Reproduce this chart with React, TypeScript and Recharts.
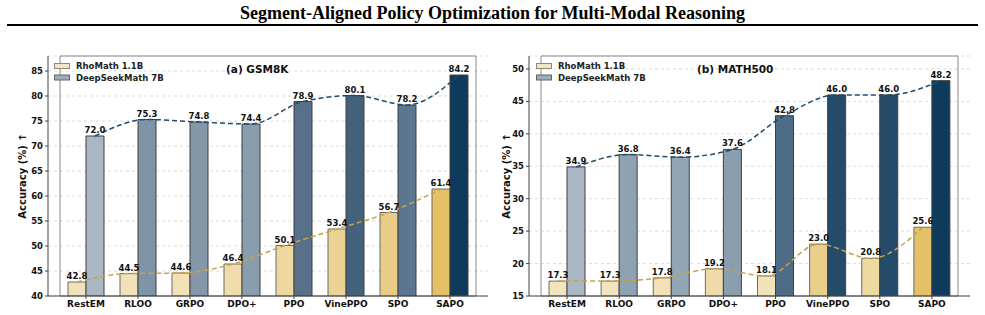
import { ComposedChart, Bar, Line, XAxis, YAxis, CartesianGrid, Cell, LabelList, ReferenceArea } from 'recharts';

const categories = ['RestEM', 'RLOO', 'GRPO', 'DPO+', 'PPO', 'VinePPO', 'SPO', 'SAPO'];

// GSM8K
const gsmRho = [42.8, 44.5, 44.6, 46.4, 50.1, 53.4, 56.7, 61.4];
const gsmDeep = [72.0, 75.3, 74.8, 74.4, 78.9, 80.1, 78.2, 84.2];
const gsmTicks = [40, 45, 50, 55, 60, 65, 70, 75, 80, 85];

// MATH500
const mathRho = [17.3, 17.3, 17.8, 19.2, 18.1, 23.0, 20.8, 25.6];
const mathDeep = [34.9, 36.8, 36.4, 37.6, 42.8, 46.0, 46.0, 48.2];
const mathTicks = [15, 20, 25, 30, 35, 40, 45, 50];

const seriesNames = ['RhoMath 1.1B', 'DeepSeekMath 7B'];

const gsmRhoColors = ['#f2e2bb', '#f2e1b8', '#f2e1b7', '#efdcab', '#eed8a0', '#ecd394', '#e9cc85', '#e4c067'];
const gsmDeepColors = ['#a8b7c3', '#7f95a7', '#8598a9', '#8a9dad', '#587089', '#45627c', '#5b768e', '#0e3a5c'];
const mathRhoColors = ['#f3e4bf', '#f3e4bf', '#f2e1b6', '#efdbaa', '#f2e2ba', '#e9cf8a', '#efd9a3', '#e4c068'];
const mathDeepColors = ['#a8b7c3', '#8ea2b2', '#93a6b5', '#8a9eae', '#4e6c85', '#244b69', '#244b69', '#0e3a5c'];

const FONT = '"DejaVu Sans", sans-serif';
const GOLD_LINE = '#c8a24a';
const BLUE_LINE = '#1f4b6c';
const LEGEND_FILLS = ['#f5e6c3', '#9aabb9'];
const LEGEND_EDGES = ['#888', '#666'];

interface PanelProps {
  left: number;
  width: number;
  marginRight: number;
  axisWidth: number;
  title: string;
  rho: number[];
  deep: number[];
  domain: [number, number];
  ticks: number[];
  rhoColors: string[];
  deepColors: string[];
  labelX: number;
  legendX: number;
  titleX: number;
}

function Panel(p: PanelProps) {
  const rows = categories.map((name, i) => ({ name, rho: p.rho[i], deep: p.deep[i] }));
  const tickStyle = { fontSize: 8.5, fontWeight: 700, fill: '#111', fontFamily: FONT };
  const valueStyle = { fontSize: 8.5, fontWeight: 700, fill: '#111', fontFamily: FONT };

  return (
    <div style={{ position: 'absolute', left: p.left, top: 0, width: p.width, height: 315 }}>
      <ComposedChart
        width={p.width}
        height={315}
        data={rows}
        barGap={0}
        margin={{ top: 56, right: p.marginRight, bottom: 0, left: 0 }}
      >
        <CartesianGrid xAxisId="main" vertical={false} strokeDasharray="3 3" stroke="#dcdcdc" />
        <ReferenceArea xAxisId="main" y1={p.domain[0]} y2={p.domain[1]} fill="none" stroke="#8a8a8a" strokeWidth={1} ifOverflow="visible" />
        <XAxis
          xAxisId="main"
          dataKey="name"
          interval={0}
          height={19}
          padding={{ left: 12, right: 12 }}
          tick={{ ...tickStyle, fontSize: 9 }}
          tickSize={3}
          axisLine={{ stroke: '#444' }}
          tickLine={{ stroke: '#444' }}
        />
        {/* shifted hidden axes so each dashed line runs through its own bar centres */}
        <XAxis xAxisId="lo" dataKey="name" hide orientation="top" height={0} padding={{ left: 3, right: 21 }} />
        <XAxis xAxisId="hi" dataKey="name" hide orientation="top" height={0} padding={{ left: 21, right: 3 }} />
        <YAxis
          width={p.axisWidth}
          domain={p.domain}
          ticks={p.ticks}
          allowDataOverflow
          tick={tickStyle}
          tickSize={3}
          axisLine={{ stroke: '#444' }}
          tickLine={{ stroke: '#444' }}
          label={({ viewBox }: any) => {
            const cy = viewBox.y + viewBox.height / 2;
            return (
              <text
                x={p.labelX}
                y={cy}
                transform={`rotate(-90, ${p.labelX}, ${cy})`}
                textAnchor="middle"
                dominantBaseline="central"
                fontSize={10}
                fontWeight={700}
                fontFamily={FONT}
                fill="#111"
              >
                Accuracy (%) ↑
              </text>
            );
          }}
        />
        <Bar xAxisId="main" dataKey="rho" barSize={18} stroke="#6b6b6b" strokeWidth={1} isAnimationActive={false}>
          {rows.map((r, i) => <Cell key={r.name} fill={p.rhoColors[i]} />)}
          <LabelList dataKey="rho" position="top" offset={3} formatter={(v: any) => Number(v).toFixed(1)} style={valueStyle} />
        </Bar>
        <Bar xAxisId="main" dataKey="deep" barSize={18} stroke="#3f3f3f" strokeWidth={1} isAnimationActive={false}>
          {rows.map((r, i) => <Cell key={r.name} fill={p.deepColors[i]} />)}
          <LabelList dataKey="deep" position="top" offset={3} formatter={(v: any) => Number(v).toFixed(1)} style={valueStyle} />
        </Bar>
        <Line xAxisId="lo" dataKey="rho" type="monotone" stroke={GOLD_LINE} strokeWidth={1.5}
          strokeDasharray="5 3" dot={false} activeDot={false} isAnimationActive={false} />
        <Line xAxisId="hi" dataKey="deep" type="monotone" stroke={BLUE_LINE} strokeWidth={1.5}
          strokeDasharray="5 3" dot={false} activeDot={false} isAnimationActive={false} />
      </ComposedChart>

      {/* legend and panel title, drawn on top of the plot */}
      <svg width={p.width} height={100} style={{ position: 'absolute', left: 0, top: 0, pointerEvents: 'none' }}>
        {seriesNames.map((s, i) => (
          <g key={s}>
            <rect x={p.legendX + 0.5} y={63.5 + i * 11.5} width={15} height={5} fill={LEGEND_FILLS[i]} stroke={LEGEND_EDGES[i]} />
            <text x={p.legendX + 22} y={66 + i * 11.5} dominantBaseline="central"
              fontSize={8.5} fontWeight={700} fontFamily={FONT} fill="#222">{s}</text>
          </g>
        ))}
        <text x={p.titleX} y={69} dominantBaseline="central" fontSize={10.5} fontWeight={700} fontFamily={FONT} fill="#111">
          {p.title}
        </text>
      </svg>
    </div>
  );
}

export default function App() {
  return (
    <div style={{ position: 'relative', width: 985, height: 315, background: '#fff', overflow: 'hidden' }}>
      <style>{'body{margin:0}'}</style>
      <div style={{
        position: 'absolute', top: 3, left: 0, width: 985, textAlign: 'center',
        fontFamily: '"Liberation Serif", serif', fontWeight: 700, fontSize: 18, lineHeight: '21px', color: '#000'
      }}>
        Segment-Aligned Policy Optimization for Multi-Modal Reasoning
      </div>
      <div style={{ position: 'absolute', top: 24, left: 7, width: 971, height: 2, background: '#000' }} />

      <Panel left={0} width={490} marginRight={2} axisWidth={48} title="(a) GSM8K"
        rho={gsmRho} deep={gsmDeep} domain={[40, 88]} ticks={gsmTicks}
        rhoColors={gsmRhoColors} deepColors={gsmDeepColors}
        labelX={22} legendX={54} titleX={226} />
      <Panel left={490} width={495} marginRight={15} axisWidth={39} title="(b) MATH500"
        rho={mathRho} deep={mathDeep} domain={[15, 52]} ticks={mathTicks}
        rhoColors={mathRhoColors} deepColors={mathDeepColors}
        labelX={16} legendX={46} titleX={207} />
    </div>
  );
}
